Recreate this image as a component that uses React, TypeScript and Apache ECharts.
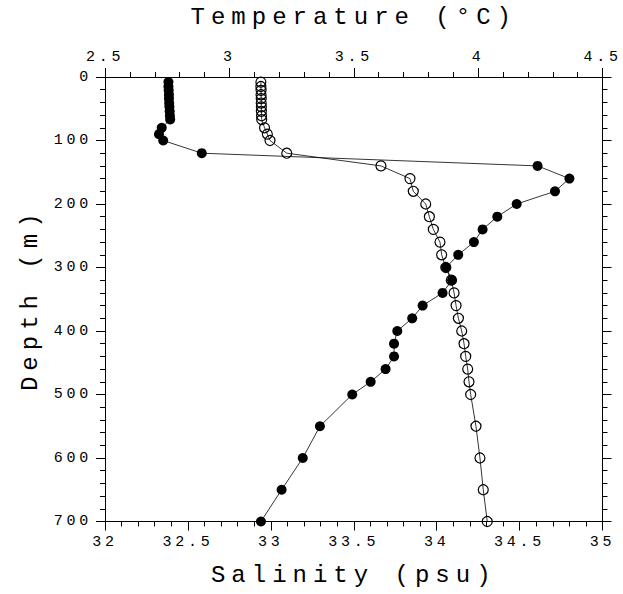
import React, { useEffect, useRef } from "react";
import * as echarts from "echarts";

// Depth (m) of each sample
const depths = [8, 15, 21, 28, 34, 41, 47, 54, 61, 67, 80, 90, 100, 120, 140, 160, 180, 200, 220, 240, 260, 280, 300, 320, 340, 360, 380, 400, 420, 440, 460, 480, 500, 550, 600, 650, 700];

// Temperature (°C) - filled circles, top axis
const temperature = [2.755, 2.755, 2.756, 2.757, 2.757, 2.758, 2.759, 2.760, 2.761, 2.762, 2.728, 2.717, 2.734, 2.889, 4.239, 4.367, 4.309, 4.155, 4.077, 4.018, 3.983, 3.920, 3.871, 3.895, 3.857, 3.777, 3.735, 3.675, 3.662, 3.662, 3.628, 3.568, 3.494, 3.364, 3.295, 3.210, 3.127];

// Salinity (psu) - open circles, bottom axis
const salinity = [32.940, 32.940, 32.941, 32.941, 32.942, 32.942, 32.943, 32.943, 32.944, 32.945, 32.962, 32.979, 32.995, 33.096, 33.664, 33.839, 33.859, 33.934, 33.956, 33.980, 34.020, 34.030, 34.055, 34.088, 34.105, 34.117, 34.131, 34.151, 34.165, 34.175, 34.187, 34.195, 34.205, 34.237, 34.261, 34.281, 34.305];

const FONT = "'Liberation Mono', 'DejaVu Sans Mono', monospace";

function axisCommon() {
  return {
    type: "value" as const,
    axisLine: { show: true, onZero: false, lineStyle: { color: "#000", width: 1 } },
    axisTick: { show: true, inside: false, length: 9, lineStyle: { color: "#000", width: 1 } },
    minorTick: { show: true, splitNumber: 5, length: 5, lineStyle: { color: "#000", width: 1 } },
    splitLine: { show: false },
    minorSplitLine: { show: false },
    axisLabel: { fontSize: 15, fontFamily: FONT, color: "#000" },
    nameTextStyle: { fontSize: 24, fontFamily: FONT, color: "#000" },
  };
}

export default function App() {
  const ref = useRef<HTMLDivElement>(null);

  useEffect(() => {
    if (!ref.current) return;
    const chart = echarts.init(ref.current, null, { renderer: "svg" });
    const c = axisCommon();
    chart.setOption({
      animation: false,
      backgroundColor: "#fff",
      grid: { left: 105, right: 20.5, top: 75, bottom: 72.5, containLabel: false },
      xAxis: [
        {
          ...c,
          position: "bottom",
          min: 32,
          max: 35,
          interval: 0.5,
          name: "Salinity (psu)",
          nameLocation: "middle",
          nameGap: 42,
          axisLabel: { ...c.axisLabel, margin: 13 },
        },
        {
          ...c,
          position: "top",
          min: 2.5,
          max: 4.5,
          interval: 0.5,
          name: "Temperature (°C)",
          nameLocation: "middle",
          nameGap: 48,
          axisLabel: { ...c.axisLabel, margin: 12 },
        },
      ],
      yAxis: [
        {
          ...c,
          position: "left",
          inverse: true,
          min: 0,
          max: 700,
          interval: 100,
          name: "Depth (m)",
          nameLocation: "middle",
          nameGap: 63,
          nameRotate: 90,
          axisLabel: { ...c.axisLabel, margin: 13 },
        },
        {
          ...c,
          position: "right",
          inverse: true,
          min: 0,
          max: 700,
          interval: 100,
          axisLabel: { show: false },
        },
      ],
      series: [
        {
          type: "line",
          name: "Salinity",
          xAxisIndex: 0,
          yAxisIndex: 0,
          data: salinity.map((s, i) => [s, depths[i]]),
          symbol: "circle",
          symbolSize: 10,
          showSymbol: true,
          itemStyle: { color: "rgba(255,255,255,0)", borderColor: "#000", borderWidth: 1.2 },
          lineStyle: { color: "#000", width: 0.8 },
          z: 2,
        },
        {
          type: "line",
          name: "Temperature",
          xAxisIndex: 1,
          yAxisIndex: 0,
          data: temperature.map((t, i) => [t, depths[i]]),
          symbol: "circle",
          symbolSize: 10,
          showSymbol: true,
          itemStyle: { color: "#000", borderColor: "#000", borderWidth: 0 },
          lineStyle: { color: "#000", width: 0.8 },
          z: 3,
        },
      ],
    });
    return () => chart.dispose();
  }, []);

  return (
    <>
      <style>{`#chartbox text { letter-spacing: 0.25em; }`}</style>
      <div
        id="chartbox"
        ref={ref}
        style={{ position: "absolute", left: 0, top: 0, width: 623, height: 594, background: "#fff" }}
      />
    </>
  );
}
